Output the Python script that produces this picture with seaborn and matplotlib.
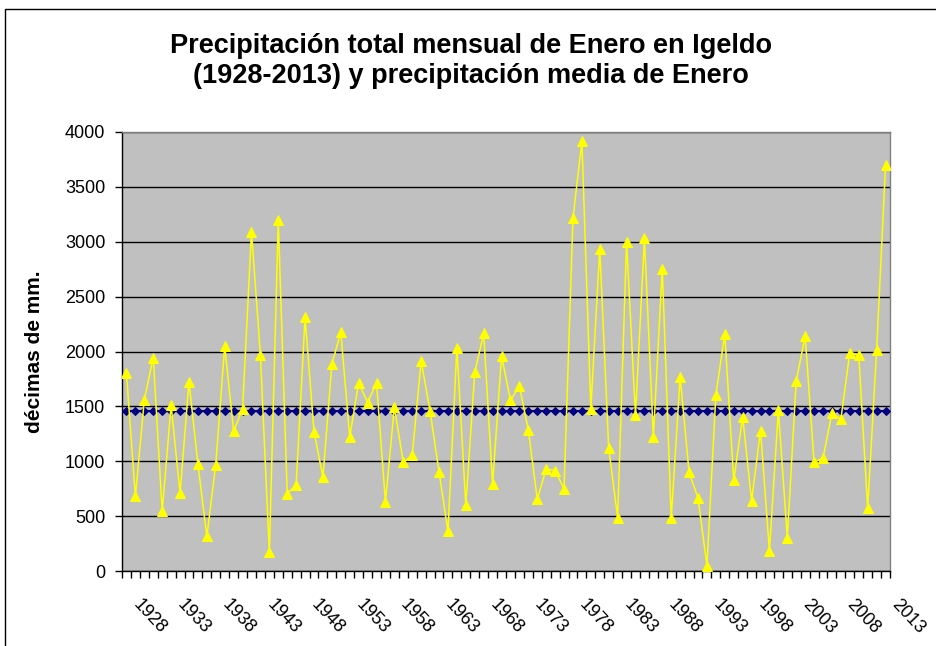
import matplotlib
matplotlib.use("Agg")
import matplotlib.pyplot as plt
import matplotlib.transforms as mtransforms
from matplotlib.patches import Rectangle
import seaborn as sns
import pandas as pd
import numpy as np

years = list(range(1928, 2014))
precip = [1800, 680, 1560, 1945, 545, 1510, 710, 1725, 975, 315,
          970, 2050, 1275, 1475, 3090, 1970, 170, 3195, 705, 785,
          2310, 1270, 855, 1885, 2175, 1220, 1715, 1535, 1715, 630,
          1495, 990, 1055, 1915, 1455, 905, 360, 2035, 600, 1810,
          2165, 790, 1960, 1555, 1685, 1285, 655, 930, 915, 750,
          3215, 3915, 1480, 2935, 1120, 485, 2995, 1420, 3030, 1220,
          2755, 480, 1770, 900, 665, 50, 1605, 2160, 825, 1405,
          640, 1280, 185, 1465, 305, 1735, 2140, 990, 1030, 1440,
          1385, 1990, 1970, 575, 2010, 3695]
mean_value = 1460
media = [mean_value] * len(years)
label_years = [str(y) for y in years[::5]]

df = pd.DataFrame({"idx": np.arange(len(years)), "year": years,
                   "precip": precip, "media": media})

sns.set_theme(style="white")
plt.rcParams["font.family"] = ["Liberation Sans", "DejaVu Sans"]
plt.rcParams["text.color"] = "black"
plt.rcParams["xtick.labelcolor"] = "black"
plt.rcParams["ytick.labelcolor"] = "black"

W, H = 936, 646
fig = plt.figure(figsize=(W / 100, H / 100), dpi=100)
ax = fig.add_axes([122 / W, (H - 571) / H, (890 - 122) / W, (571 - 132) / H])
ax.set_facecolor("#C0C0C0")

sns.lineplot(data=df, x="idx", y="media", ax=ax, color="#000080",
             marker="D", markersize=4.3, markeredgecolor="#000080",
             linewidth=1.5, zorder=3)
sns.lineplot(data=df, x="idx", y="precip", ax=ax, color="#FFFF00",
             marker="^", markersize=7, markeredgecolor="#FFFF00",
             linewidth=1.1, zorder=4)

ax.set_xlim(-0.5, len(years) - 0.5)
ax.set_ylim(0, 4000)
ax.set_yticks(np.arange(0, 4001, 500))
ax.yaxis.grid(True, color="black", linewidth=1)
ax.set_axisbelow(True)

ax.set_xticks(np.arange(0, len(years), 5))
ax.set_xticklabels(label_years)
ax.set_xticks(np.arange(-0.5, len(years), 1), minor=True)
ax.tick_params(axis="x", which="major", length=0, labelsize=13, pad=0,
               labelcolor="black")
ax.tick_params(axis="x", which="minor", length=5, width=1, color="black",
               direction="out", bottom=True)
ax.tick_params(axis="y", which="major", length=5, width=1, color="black",
               direction="out", left=True, labelsize=13, pad=7,
               labelcolor="black")
offset = mtransforms.ScaledTranslation(9 / 100, -31 / 100, fig.dpi_scale_trans)
for lab in ax.get_xticklabels():
    lab.set_rotation(-47)
    lab.set_rotation_mode("anchor")
    lab.set_ha("left")
    lab.set_va("center")
    lab.set_transform(lab.get_transform() + offset)

ax.set_xlabel("")
ax.set_ylabel("")
for s in ["left", "bottom"]:
    ax.spines[s].set_color("black")
    ax.spines[s].set_linewidth(1)
for s in ["top", "right"]:
    ax.spines[s].set_color("#808080")
    ax.spines[s].set_linewidth(1)

fig.text(471 / W, (H - 61) / H,
         "Precipitación total mensual de Enero en Igeldo\n(1928-2013) y precipitación media de Enero",
         ha="center", va="center", fontsize=19.5, fontweight="bold",
         linespacing=1.2, color="black")
fig.text(35 / W, (H - 352) / H, "décimas de mm.", rotation=90,
         ha="center", va="center", fontsize=15, fontweight="bold",
         color="black")

fig.patches.append(Rectangle((5 / W, -0.1), 1.2, (H - 9.5) / H + 0.1,
                             transform=fig.transFigure, fill=False,
                             edgecolor="black", linewidth=1))

fig.savefig("out.png", dpi=100)
